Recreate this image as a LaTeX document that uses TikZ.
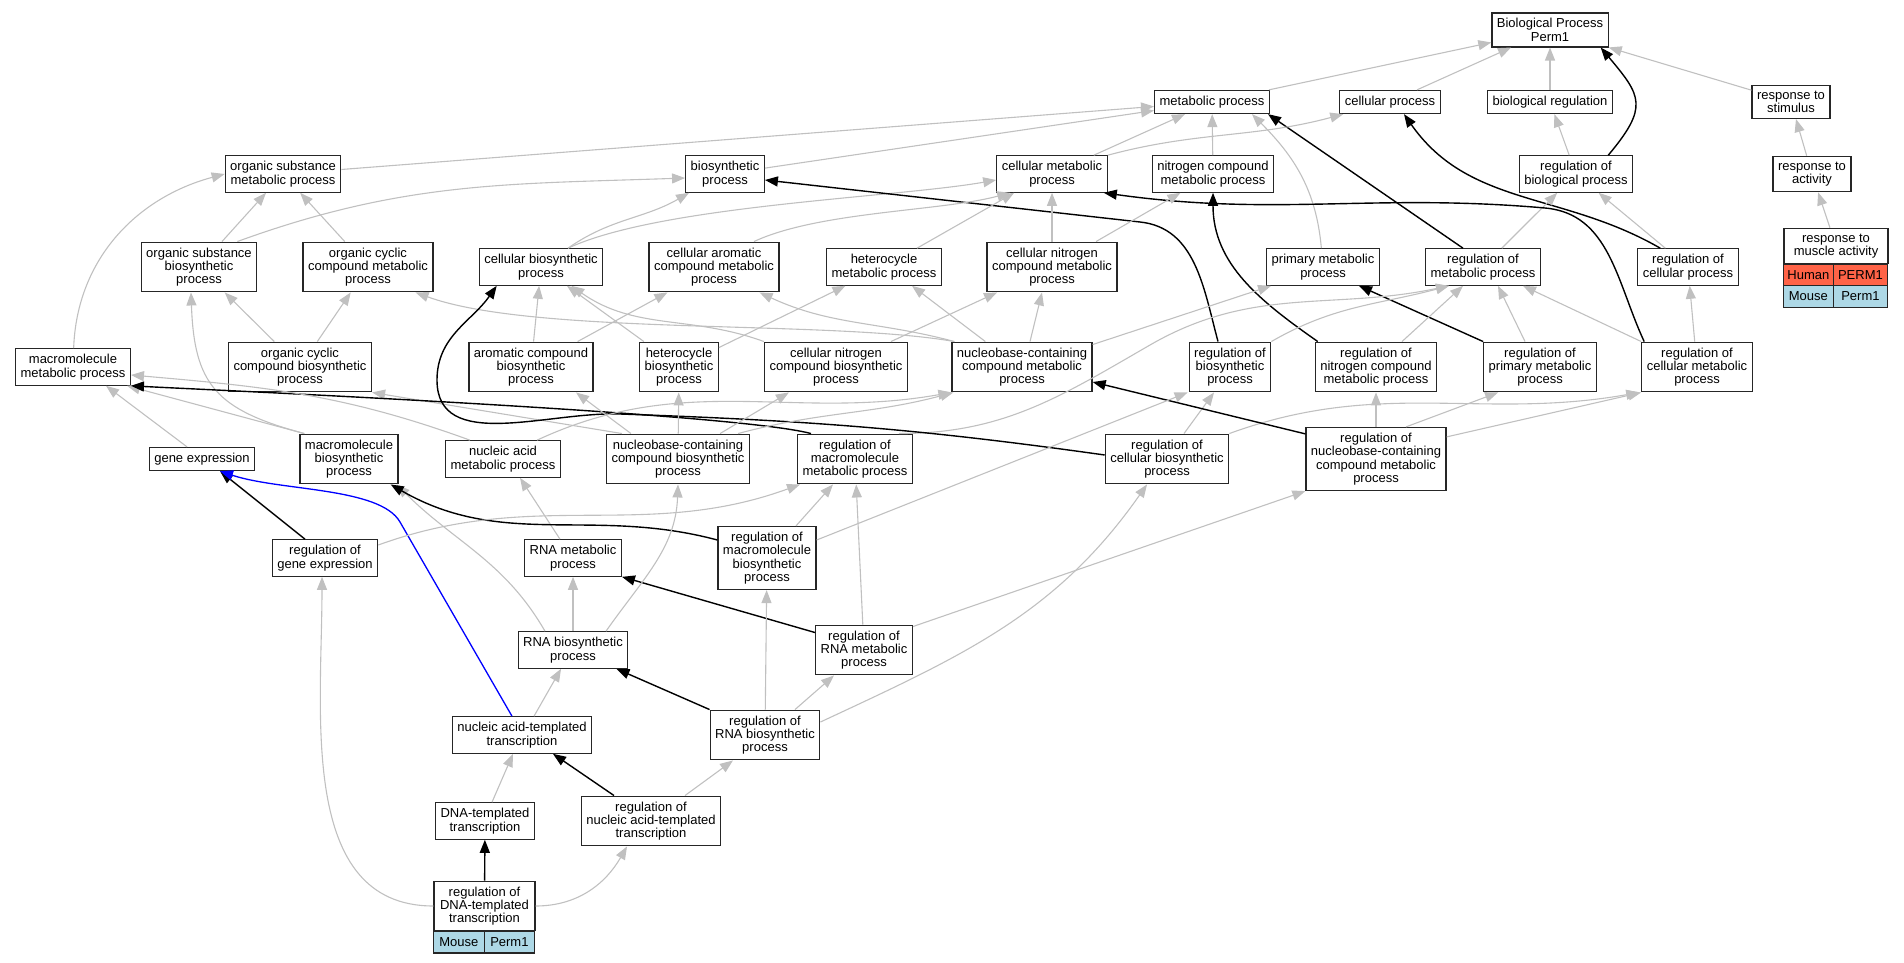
\documentclass[tikz,border=0pt]{standalone}
\usepackage{fontspec}
\setmainfont{Liberation Sans}
\usetikzlibrary{arrows.meta}
\definecolor{isagray}{RGB}{192,192,192}
\definecolor{human}{RGB}{255,99,71}
\definecolor{mouse}{RGB}{173,216,230}
\begin{document}
\begin{tikzpicture}[x=1pt,y=1pt,
  term/.style={draw=black!85,line width=1.2pt,fill=white,align=center,inner xsep=5pt,inner ysep=5.5pt,font=\fontsize{13}{13.3}\selectfont},
  cell/.style={draw=black!85,line width=1.2pt,minimum height=21.5pt,inner sep=0pt,outer sep=0pt,anchor=north west,font=\fontsize{13}{13.3}\selectfont},
  isa/.style={draw=isagray,line width=1.1pt,-{Triangle[length=13pt,width=10pt]}},
  reg/.style={draw=black,line width=1.4pt,-{Triangle[length=13pt,width=10pt]}},
  partof/.style={draw=blue,line width=1.3pt,-{Triangle[length=13pt,width=10pt]}}]
\useasboundingbox (0,0) rectangle (1904,-963);
% terms, row by row
\node[term] (BP) at (1550,-30) {Biological Process\\Perm1};
\node[term] (metabolic) at (1212,-102) {metabolic process};
\node[term] (cellproc) at (1390,-102) {cellular process};
\node[term] (bioreg) at (1550,-102) {biological regulation};
\node[term] (respstim) at (1791,-102) {response to\\stimulus};
\node[term] (orgsubmet) at (283,-174) {organic substance\\metabolic process};
\node[term] (biosynth) at (725,-174) {biosynthetic\\process};
\node[term] (cellmet) at (1052,-174) {cellular metabolic\\process};
\node[term] (nitromet) at (1213,-174) {nitrogen compound\\metabolic process};
\node[term] (regbio) at (1576,-174) {regulation of\\biological process};
\node[term] (respact) at (1812,-174) {response to\\activity};
\node[term] (orgsubbio) at (199,-267) {organic substance\\biosynthetic\\process};
\node[term] (orgcycmet) at (368,-267) {organic cyclic\\compound metabolic\\process};
\node[term] (cellbio) at (541,-267) {cellular biosynthetic\\process};
\node[term] (cellarom) at (714,-267) {cellular aromatic\\compound metabolic\\process};
\node[term] (hetmet) at (884,-267) {heterocycle\\metabolic process};
\node[term] (cellnitmet) at (1052,-267) {cellular nitrogen\\compound metabolic\\process};
\node[term] (primary) at (1323,-267) {primary metabolic\\process};
\node[term] (regmet) at (1483,-267) {regulation of\\metabolic process};
\node[term] (regcell) at (1688,-267) {regulation of\\cellular process};
\node[term,minimum width=104pt] (respmus) at (1836,-246) {response to\\muscle activity};
\node[cell,fill=human,minimum width=50pt] (musHs) at (respmus.south west) {Human};
\node[cell,fill=human,minimum width=54pt] (musHg) at (musHs.north east) {PERM1};
\node[cell,fill=mouse,minimum width=50pt] (musMs) at (musHs.south west) {Mouse};
\node[cell,fill=mouse,minimum width=54pt] (musMg) at (musMs.north east) {Perm1};
\node[term] (macmet) at (73,-367) {macromolecule\\metabolic process};
\node[term] (orgcycbio) at (300,-367) {organic cyclic\\compound biosynthetic\\process};
\node[term] (aromcbio) at (531,-367) {aromatic compound\\biosynthetic\\process};
\node[term] (hetbio) at (679,-367) {heterocycle\\biosynthetic\\process};
\node[term] (cellnitbio) at (836,-367) {cellular nitrogen\\compound biosynthetic\\process};
\node[term] (nucbmet) at (1022,-367) {nucleobase-containing\\compound metabolic\\process};
\node[term] (regbios) at (1230,-367) {regulation of\\biosynthetic\\process};
\node[term] (regnitmet) at (1376,-367) {regulation of\\nitrogen compound\\metabolic process};
\node[term] (regprim) at (1540,-367) {regulation of\\primary metabolic\\process};
\node[term] (regcellmet) at (1697,-367) {regulation of\\cellular metabolic\\process};
\node[term] (geneexp) at (202,-459) {gene expression};
\node[term] (macbio) at (349,-459) {macromolecule\\biosynthetic\\process};
\node[term] (nucmet) at (503,-459) {nucleic acid\\metabolic process};
\node[term] (nucbbio) at (678,-459) {nucleobase-containing\\compound biosynthetic\\process};
\node[term] (regmacmet) at (855,-459) {regulation of\\macromolecule\\metabolic process};
\node[term] (regcellbio) at (1167,-459) {regulation of\\cellular biosynthetic\\process};
\node[term] (regnucb) at (1376,-459) {regulation of\\nucleobase-containing\\compound metabolic\\process};
\node[term] (reggene) at (325,-558) {regulation of\\gene expression};
\node[term] (rnamet) at (573,-558) {RNA metabolic\\process};
\node[term] (regmacbio) at (767,-558) {regulation of\\macromolecule\\biosynthetic\\process};
\node[term] (rnabio) at (573,-650) {RNA biosynthetic\\process};
\node[term] (regrnamet) at (864,-650) {regulation of\\RNA metabolic\\process};
\node[term] (nuctemp) at (522,-735) {nucleic acid-templated\\transcription};
\node[term] (regrnabio) at (765,-735) {regulation of\\RNA biosynthetic\\process};
\node[term] (dnatemp) at (485,-821) {DNA-templated\\transcription};
\node[term] (regnuctemp) at (651,-821) {regulation of\\nucleic acid-templated\\transcription};
\node[term,minimum width=101pt] (regdna) at (484.5,-906) {regulation of\\DNA-templated\\transcription};
\node[cell,fill=mouse,minimum width=51pt] (dnaMs) at (regdna.south west) {Mouse};
\node[cell,fill=mouse,minimum width=50pt] (dnaMg) at (dnaMs.north east) {Perm1};
% edges into the top rows
\draw[isa] (metabolic) -- (BP);
\draw[isa] (cellproc) -- (BP);
\draw[isa] (bioreg) -- (BP);
\draw[isa] (respstim) -- (BP);
\draw[reg] ([xshift=-25pt]regbio.north east) to[out=50,in=-50,looseness=1.5] ([xshift=-8pt]BP.south east);
\draw[isa] (orgsubmet) -- (metabolic);
\draw[isa] (biosynth) -- (metabolic);
\draw[isa] (cellmet) -- (metabolic);
\draw[isa] (nitromet) -- (metabolic);
\draw[isa] (primary) to[out=95,in=-45] ([xshift=-18pt]metabolic.south east);
\draw[reg] ([xshift=-20pt]regmet.north) -- ([xshift=-2pt]metabolic.south east);
\draw[isa] (cellmet.north east) to[out=15,in=-165] ([xshift=4pt]cellproc.south west);
\draw[reg] ([xshift=23pt]regcell.north west) to[out=150,in=-55] ([xshift=14pt]cellproc.south);
\draw[isa] (regbio) -- (bioreg);
\draw[isa] (respact) -- (respstim);
\draw[isa] (respmus) -- (respact);
\draw[isa] (regmet) -- (regbio);
\draw[isa] (regcell) -- (regbio);
% second row
\draw[isa] (orgsubbio) -- (orgsubmet);
\draw[isa] (orgcycmet) -- (orgsubmet);
\draw[isa] (macmet) to[out=88,in=195] (orgsubmet.west);
\draw[isa] ([xshift=-20pt]orgsubbio.north east) to[out=20,in=182] ([yshift=-4pt]biosynth.west);
\draw[isa] ([xshift=27pt]cellbio.north) to[out=35,in=-150] ([xshift=4pt]biosynth.south west);
\draw[isa] ([xshift=27pt]cellbio.north) to[out=25,in=190,looseness=0.6] ([yshift=-6pt]cellmet.west);
\draw[reg] ([xshift=-12pt]regbios.north) to[out=105,in=-6] (1140,-222) -- ([yshift=-6pt]biosynth.east);
\draw[isa] ([xshift=40pt]cellarom.north) to[out=25,in=-165,looseness=0.7] ([xshift=14pt]cellmet.south west);
\draw[isa] (hetmet) -- ([xshift=18pt]cellmet.south west);
\draw[isa] (cellnitmet) -- (cellmet);
\draw[reg] ([xshift=3pt]regcellmet.north west) to[out=115,in=-5] (1545,-208) to[out=175,in=-8] ([xshift=-4pt]cellmet.south east);
\draw[isa] (cellnitmet) -- (nitromet);
\draw[reg] ([xshift=3pt]regnitmet.north west) to[out=145,in=-90] (nitromet.south);
% third row
\draw[isa] ([xshift=5pt]macbio.north west) to[out=165,in=-88,looseness=1.3] ([xshift=-8pt]orgsubbio.south);
\draw[isa] ([xshift=5pt]macbio.north west) -- ([xshift=-4pt]macmet.south east);
\draw[isa] (orgcycbio) -- (orgsubbio);
\draw[isa] (orgcycbio) -- (orgcycmet);
\draw[isa] ([xshift=3pt]nucbmet.north west) to[out=170,in=-20,looseness=0.6] ([xshift=-18pt]orgcycmet.south east);
\draw[isa] ([xshift=16pt]nucbbio.north west) -- (orgcycbio.south east);
\draw[isa] (aromcbio) -- (cellbio);
\draw[isa] (aromcbio) -- (cellarom);
\draw[isa] (hetbio) -- (cellbio);
\draw[isa] (hetbio) -- (hetmet);
\draw[isa] (cellnitbio.north west) to[out=160,in=-35] ([xshift=-32pt]cellbio.south east);
\draw[isa] (cellnitbio) -- (cellnitmet);
\draw[isa] ([xshift=3pt]nucbmet.north west) to[out=165,in=-25] ([xshift=-20pt]cellarom.south east);
\draw[isa] ([xshift=34pt]nucbmet.north west) -- ([xshift=-30pt]hetmet.south east);
\draw[isa] ([xshift=8pt]nucbmet.north) -- ([xshift=-10pt]cellnitmet.south);
\draw[isa] ([yshift=-3pt]nucbmet.north east) -- ([xshift=5pt]primary.south west);
\draw[reg] (regprim.north west) -- ([xshift=36pt]primary.south);
\draw[isa] ([xshift=-14pt]regmacmet.north east) to[out=0,in=-150] (1150,-345) to[out=30,in=192] ([xshift=24pt]regmet.south west);
\draw[isa] (regbios.north east) to[out=30,in=195] ([xshift=24pt]regmet.south west);
\draw[isa] ([xshift=26pt]regnitmet.north) -- ([xshift=-20pt]regmet.south);
\draw[isa] ([xshift=-15pt]regprim.north) -- ([xshift=15pt]regmet.south);
\draw[isa] (regcellmet.north west) -- ([xshift=-18pt]regmet.south east);
\draw[isa] (regcellmet) -- (regcell);
% fourth row
\draw[isa] (regnucb) -- (regnitmet);
\draw[isa] ([xshift=30pt]regnucb.north) -- ([xshift=15pt]regprim.south west);
\draw[isa] ([yshift=-10pt]regnucb.north east) -- (regcellmet.south west);
\draw[isa] (regcellbio.north east) to[out=20,in=190] ([xshift=-2pt]regcellmet.south west);
\draw[isa] ([xshift=17pt]regcellbio.north) -- ([xshift=-16pt]regbios.south);
\draw[reg] ([yshift=4pt]regcellbio.west) to[out=172,in=-2] (620,-414) to[out=178,in=-90] (437,-380) to[out=90,in=-125] ([xshift=18pt]cellbio.south west);
\draw[reg] ([xshift=14pt]regmacmet.north west) to[out=165,in=-3,looseness=0.3] (macmet.south east);
\draw[reg] ([yshift=-7pt]regnucb.north west) -- ([yshift=-15pt]nucbmet.east);
\draw[isa] ([xshift=-12pt]nucbbio.north east) to[out=15,in=-165] ([xshift=2pt]nucbmet.south west);
\draw[isa] ([xshift=-24pt]nucmet.north east) to[out=25,in=-170] (nucbmet.south west);
\draw[isa] ([xshift=25pt]nucbbio.north west) -- ([xshift=45pt]aromcbio.south);
\draw[isa] (nucbbio) -- (hetbio);
\draw[isa] ([xshift=-30pt]nucbbio.north east) -- ([xshift=25pt]cellnitbio.south west);
\draw[isa] ([xshift=-15pt]geneexp.north) -- ([xshift=33pt]macmet.south);
\draw[isa] ([xshift=25pt]nucmet.north west) to[out=160,in=-5] ([yshift=-8pt]macmet.east);
% lower rows
\draw[reg] ([xshift=-20pt]reggene.north) -- ([xshift=18pt]geneexp.south);
\draw[partof] ([xshift=-10pt]nuctemp.north) -- (400,-522) .. controls +(-20,35) and +(60,-20) .. ([xshift=18pt]geneexp.south);
\draw[isa] ([xshift=-13pt]rnamet.north) -- ([xshift=17pt]nucmet.south);
\draw[isa] (rnabio) -- (rnamet);
\draw[reg] ([yshift=-8pt]regrnamet.north west) -- (rnamet.south east);
\draw[isa] ([xshift=-28pt]rnabio.north) to[out=120,in=-45] ([xshift=-2pt]macbio.south east);
\draw[reg] ([yshift=18pt]regmacbio.west) to[out=165,in=-30] ([xshift=-8pt]macbio.south east);
\draw[isa] ([xshift=33pt]rnabio.north) to[out=55,in=-92] (nucbbio.south);
\draw[isa] ([yshift=13pt]reggene.east) to[out=20,in=-160] ([xshift=3pt]regmacmet.south west);
\draw[isa] ([xshift=29pt]regmacbio.north) -- ([xshift=-22pt]regmacmet.south);
\draw[isa] (regrnamet) -- (regmacmet);
\draw[isa] ([yshift=-2pt]regrnamet.north east) -- (regnucb.south west);
\draw[isa] ([yshift=18pt]regmacbio.east) -- ([xshift=-1pt]regbios.south west);
\draw[isa] ([yshift=13pt]regrnabio.east) to[out=25,in=-125] ([xshift=-20pt]regcellbio.south);
\draw[isa] (regrnabio) -- (regmacbio);
\draw[isa] ([xshift=30pt]regrnabio.north) -- ([xshift=-30pt]regrnamet.south);
\draw[reg] (regrnabio.north west) -- ([xshift=-12pt]rnabio.south east);
\draw[isa] ([xshift=12pt]nuctemp.north) -- ([xshift=-12pt]rnabio.south);
\draw[isa] ([xshift=7pt]dnatemp.north) -- ([xshift=-9pt]nuctemp.south);
\draw[reg] ([xshift=-37pt]regnuctemp.north) -- ([xshift=31pt]nuctemp.south);
\draw[isa] ([xshift=34pt]regnuctemp.north) -- ([xshift=-32pt]regrnabio.south);
\draw[reg] (regdna) -- (dnatemp);
\draw[isa] (regdna.east) to[out=0,in=-120] ([xshift=-24pt]regnuctemp.south);
\draw[isa] (regdna.west) to[out=180,in=-90] ([xshift=-3pt]reggene.south);
\end{tikzpicture}
\end{document}
